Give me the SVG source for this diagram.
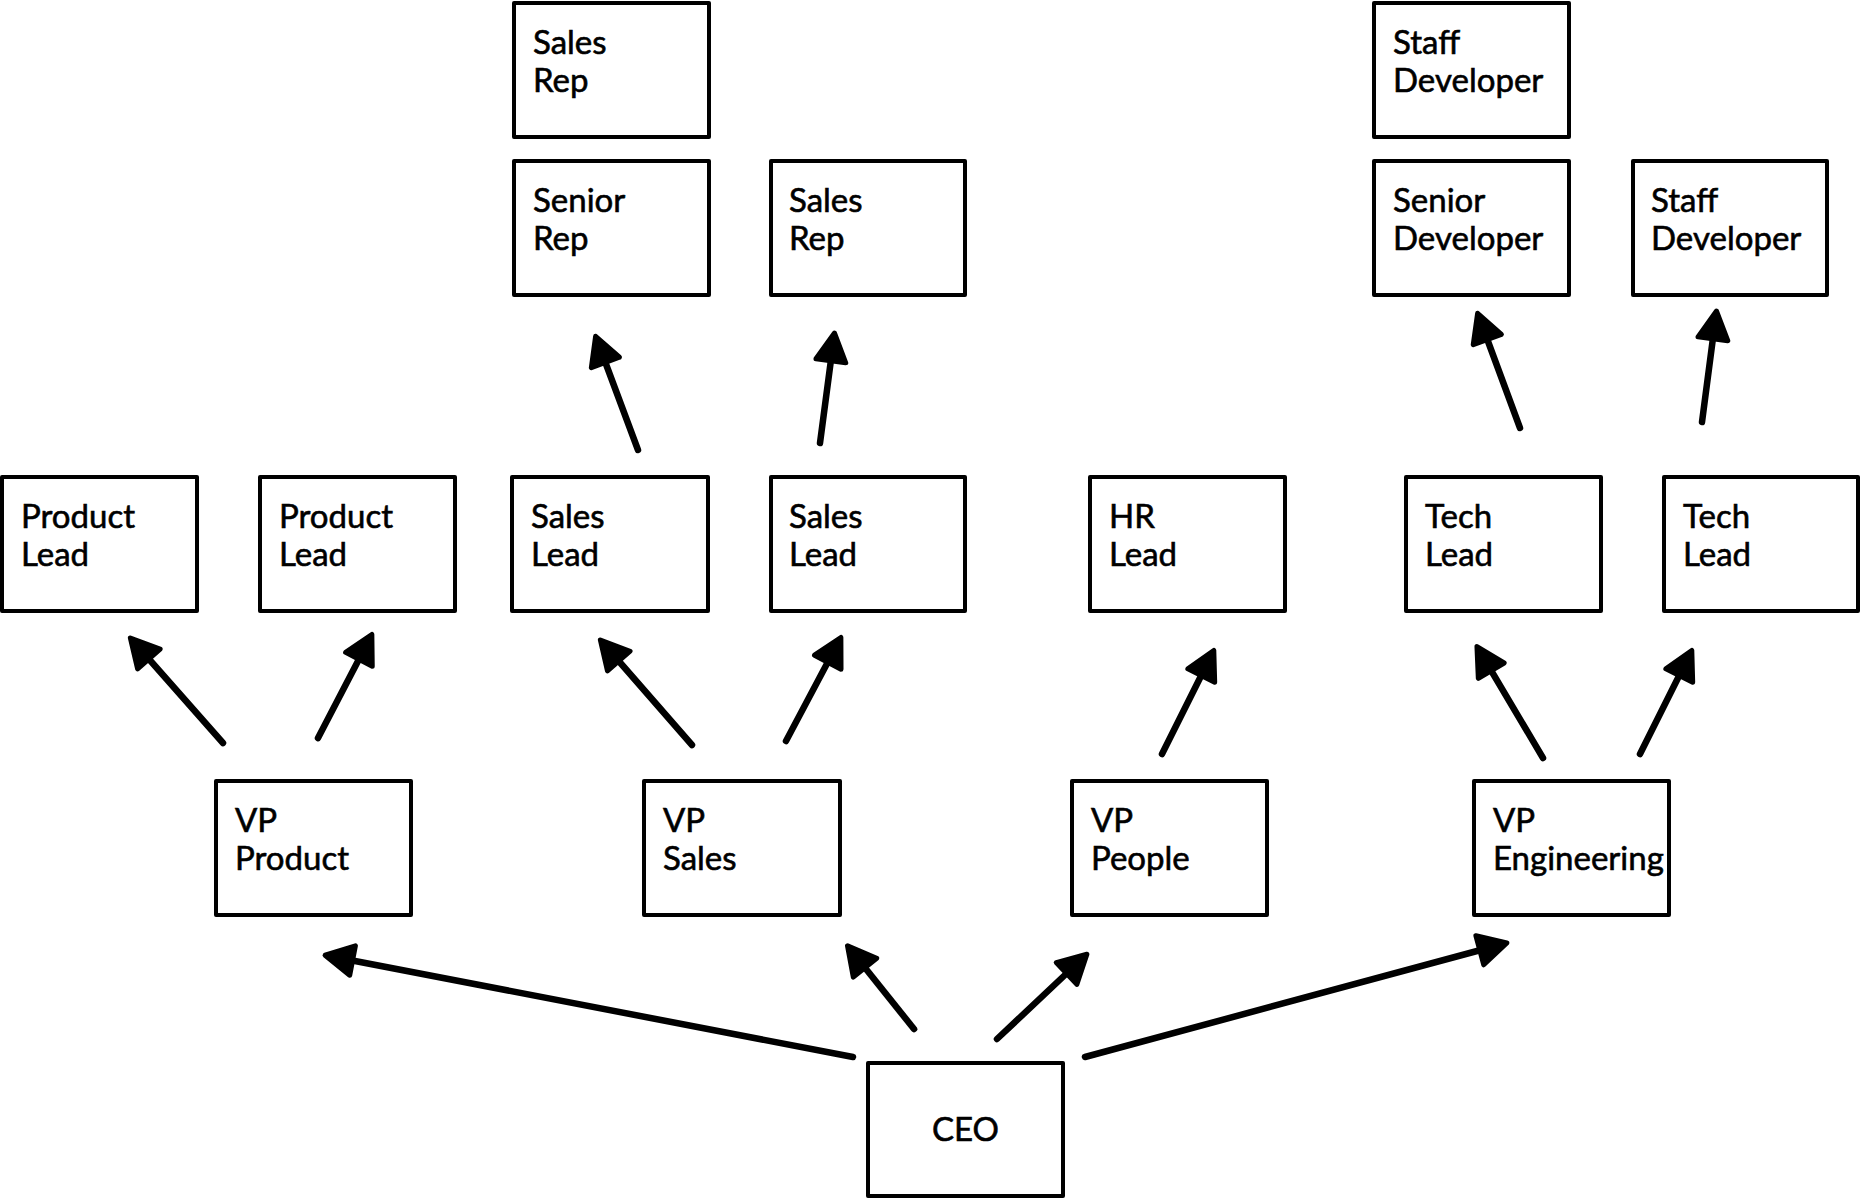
<svg xmlns="http://www.w3.org/2000/svg" width="1862" height="1200" viewBox="0 0 1862 1200">
<style>
.box{fill:#fff;stroke:#000;stroke-width:4;stroke-linejoin:round}
.lbl{font-family:Lato,"Noto Sans",sans-serif;font-size:33px;fill:#000;stroke:#000;stroke-width:0.6}
.c{text-anchor:middle}
.edge{fill:none;stroke:#000;stroke-width:6.5;stroke-linecap:round;marker-end:url(#ah)}
</style>
<defs>
<marker id="ah" markerUnits="userSpaceOnUse" viewBox="-30 -18 40 36" refX="0" refY="0" markerWidth="40" markerHeight="36" orient="auto" overflow="visible">
<path d="M-24,-15 L4,0 L-24,15 Z" fill="#000" stroke="#000" stroke-width="5" stroke-linejoin="round"/>
</marker>
</defs>
<rect width="1862" height="1200" fill="#fff"/>
<g id="connectors">
<line class="edge" x1="223" y1="743" x2="133" y2="641"/>
<line class="edge" x1="318" y1="738" x2="370" y2="638"/>
<line class="edge" x1="692" y1="745" x2="603" y2="643"/>
<line class="edge" x1="786" y1="741" x2="839" y2="641"/>
<line class="edge" x1="1162" y1="754" x2="1212" y2="654"/>
<line class="edge" x1="1543" y1="758" x2="1479" y2="650"/>
<line class="edge" x1="1640" y1="754" x2="1690" y2="654"/>
<line class="edge" x1="638" y1="450" x2="597" y2="340"/>
<line class="edge" x1="820" y1="443" x2="834" y2="337"/>
<line class="edge" x1="1520" y1="428" x2="1479" y2="317"/>
<line class="edge" x1="1702" y1="422" x2="1716" y2="315"/>
<line class="edge" x1="853" y1="1057" x2="329" y2="956"/>
<line class="edge" x1="914" y1="1029" x2="850" y2="949"/>
<line class="edge" x1="997" y1="1039" x2="1084" y2="957"/>
<line class="edge" x1="1085" y1="1057" x2="1503" y2="944"/>
</g>
<g id="sales-rep-1"><rect class="box" x="514" y="3" width="195" height="134"/><text class="lbl" x="533" y="54">Sales</text><text class="lbl" x="533" y="92">Rep</text></g>
<g id="staff-dev-1"><rect class="box" x="1374" y="3" width="195" height="134"/><text class="lbl" x="1393" y="54">Staff</text><text class="lbl" x="1393" y="92">Developer</text></g>
<g id="senior-rep"><rect class="box" x="514" y="161" width="195" height="134"/><text class="lbl" x="533" y="212">Senior</text><text class="lbl" x="533" y="250">Rep</text></g>
<g id="sales-rep-2"><rect class="box" x="771" y="161" width="194" height="134"/><text class="lbl" x="789" y="212">Sales</text><text class="lbl" x="789" y="250">Rep</text></g>
<g id="senior-dev"><rect class="box" x="1374" y="161" width="195" height="134"/><text class="lbl" x="1393" y="212">Senior</text><text class="lbl" x="1393" y="250">Developer</text></g>
<g id="staff-dev-2"><rect class="box" x="1633" y="161" width="194" height="134"/><text class="lbl" x="1651" y="212">Staff</text><text class="lbl" x="1651" y="250">Developer</text></g>
<g id="product-lead-1"><rect class="box" x="2" y="477" width="195" height="134"/><text class="lbl" x="21" y="528">Product</text><text class="lbl" x="21" y="566">Lead</text></g>
<g id="product-lead-2"><rect class="box" x="260" y="477" width="195" height="134"/><text class="lbl" x="279" y="528">Product</text><text class="lbl" x="279" y="566">Lead</text></g>
<g id="sales-lead-1"><rect class="box" x="512" y="477" width="196" height="134"/><text class="lbl" x="531" y="528">Sales</text><text class="lbl" x="531" y="566">Lead</text></g>
<g id="sales-lead-2"><rect class="box" x="771" y="477" width="194" height="134"/><text class="lbl" x="789" y="528">Sales</text><text class="lbl" x="789" y="566">Lead</text></g>
<g id="hr-lead"><rect class="box" x="1090" y="477" width="195" height="134"/><text class="lbl" x="1109" y="528">HR</text><text class="lbl" x="1109" y="566">Lead</text></g>
<g id="tech-lead-1"><rect class="box" x="1406" y="477" width="195" height="134"/><text class="lbl" x="1425" y="528">Tech</text><text class="lbl" x="1425" y="566">Lead</text></g>
<g id="tech-lead-2"><rect class="box" x="1664" y="477" width="194" height="134"/><text class="lbl" x="1683" y="528">Tech</text><text class="lbl" x="1683" y="566">Lead</text></g>
<g id="vp-product"><rect class="box" x="216" y="781" width="195" height="134"/><text class="lbl" x="235" y="832">VP</text><text class="lbl" x="235" y="870">Product</text></g>
<g id="vp-sales"><rect class="box" x="644" y="781" width="196" height="134"/><text class="lbl" x="663" y="832">VP</text><text class="lbl" x="663" y="870">Sales</text></g>
<g id="vp-people"><rect class="box" x="1072" y="781" width="195" height="134"/><text class="lbl" x="1091" y="832">VP</text><text class="lbl" x="1091" y="870">People</text></g>
<g id="vp-engineering"><rect class="box" x="1474" y="781" width="195" height="134"/><text class="lbl" x="1493" y="832">VP</text><text class="lbl" x="1493" y="870">Engineering</text></g>
<g id="ceo"><rect class="box" x="868" y="1063" width="195" height="133"/><text class="lbl c" x="965.5" y="1141">CEO</text></g>
</svg>
